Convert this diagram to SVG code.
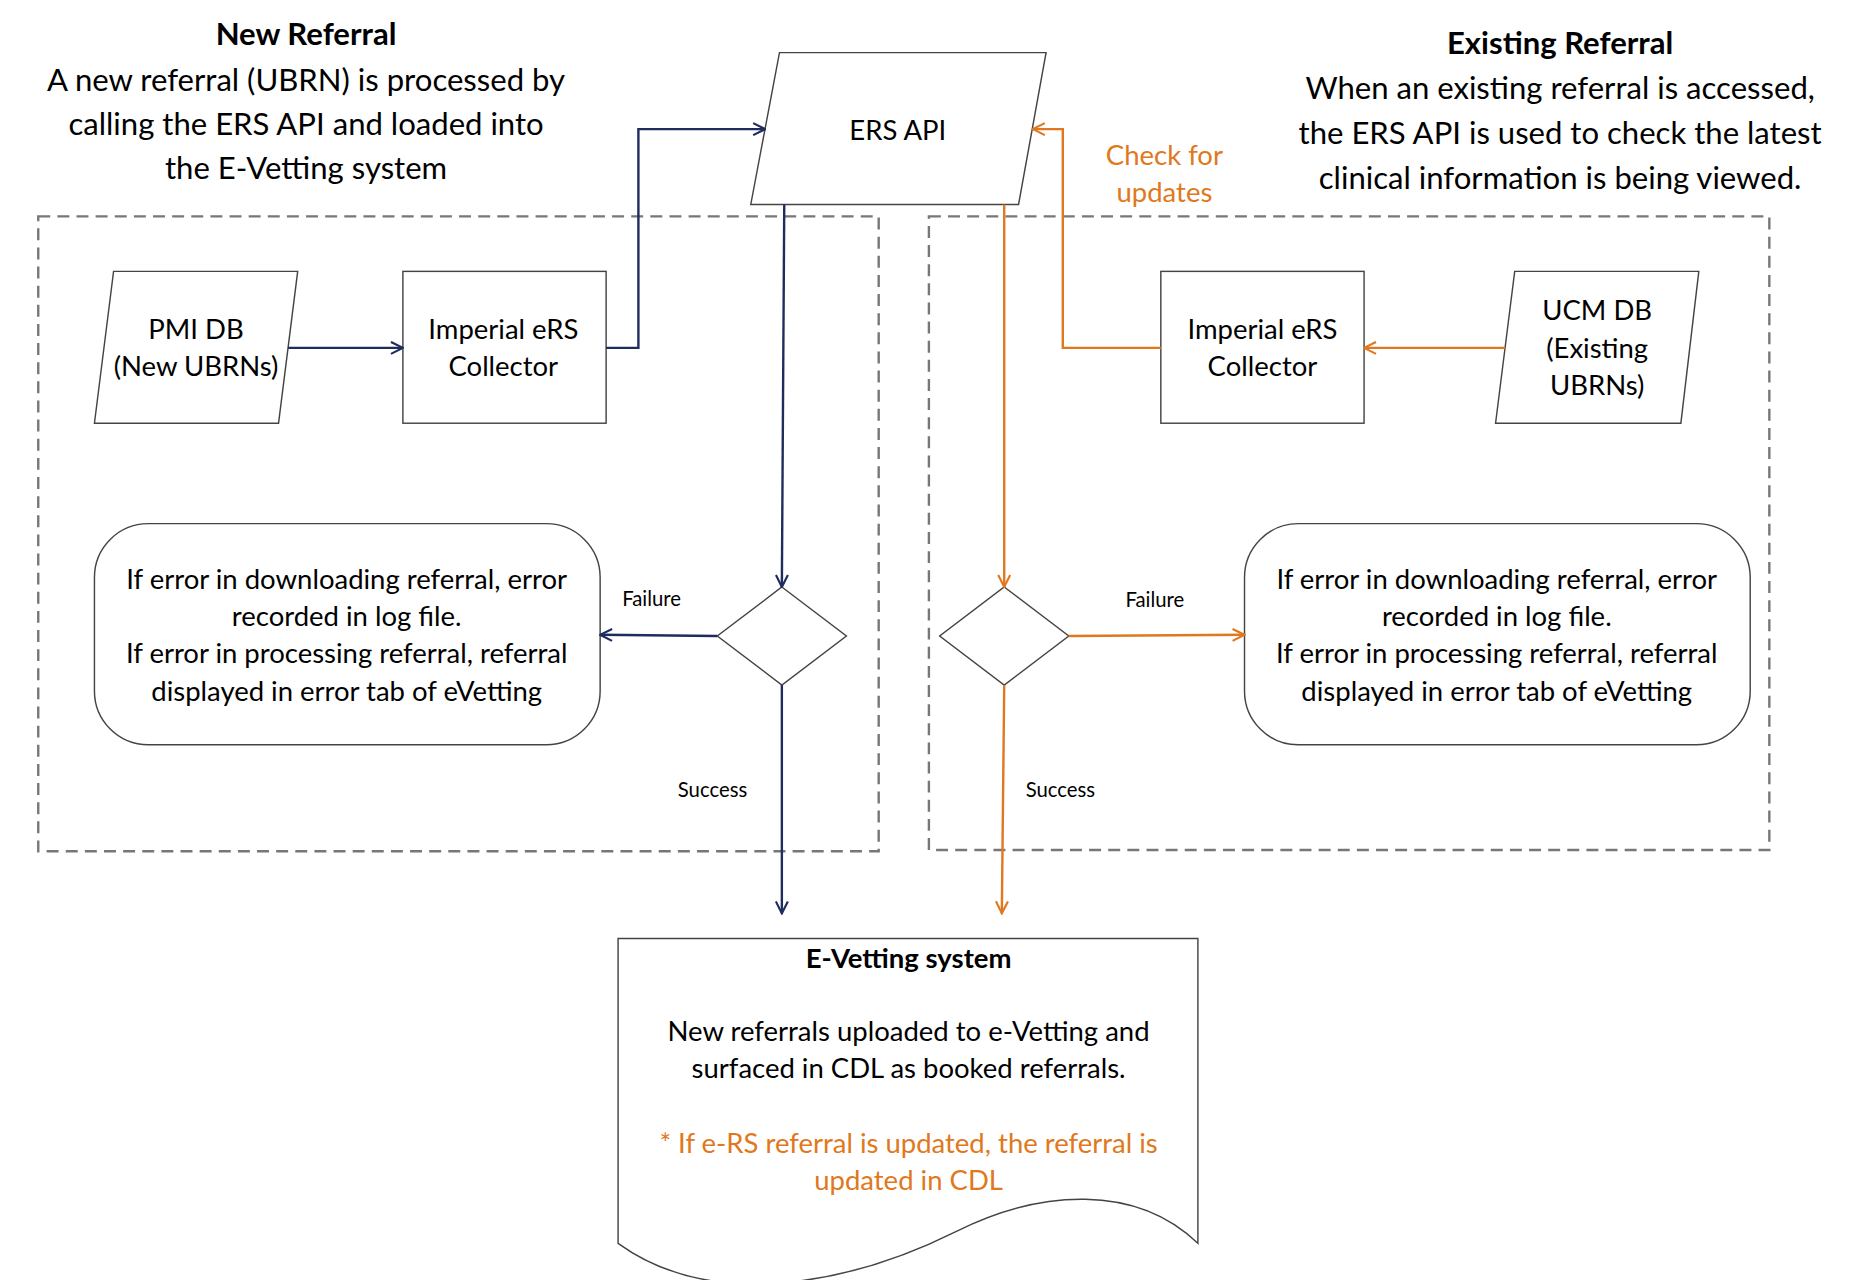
<svg xmlns="http://www.w3.org/2000/svg" width="1865" height="1280" viewBox="0 0 1865 1280">
<defs>
<style>
text{font-family:Lato,"Open Sans","Liberation Sans",sans-serif;text-anchor:middle;fill:#000;dominant-baseline:central}
.t{font-size:23px}.h{font-size:26px}.b{font-weight:bold}.s{font-size:17px}.o{fill:#E07820}
.n{fill:#fff;stroke:#444;stroke-width:1.2}
.dash{fill:none;stroke:#777;stroke-width:2;stroke-dasharray:10,6}
.nv{fill:none;stroke:#1F2D5E;stroke-width:2}.or{fill:none;stroke:#E07820;stroke-width:2}
</style>
<marker id="an" viewBox="0 0 12 12" refX="11" refY="6" markerWidth="12" markerHeight="12" markerUnits="userSpaceOnUse" orient="auto"><path d="M1,1 L11,6 L1,11" fill="none" stroke="#1F2D5E" stroke-width="1.8"/></marker>
<marker id="ao" viewBox="0 0 12 12" refX="11" refY="6" markerWidth="12" markerHeight="12" markerUnits="userSpaceOnUse" orient="auto"><path d="M1,1 L11,6 L1,11" fill="none" stroke="#E07820" stroke-width="1.8"/></marker>
</defs>
<rect width="1865" height="1280" fill="#fff"/>
<g transform="scale(1.1955)">
<g id="headers">
<text class="h b" x="256" y="28">New Referral</text>
<text class="h" x="256" y="66">A new referral (UBRN) is processed by</text>
<text class="h" x="256" y="103">calling the ERS API and loaded into</text>
<text class="h" x="256" y="140">the E-Vetting system</text>
<text class="h b" x="1305" y="35">Existing Referral</text>
<text class="h" x="1305" y="73">When an existing referral is accessed,</text>
<text class="h" x="1305" y="110">the ERS API is used to check the latest</text>
<text class="h" x="1305" y="148">clinical information is being viewed.</text>
</g>
<g id="groups">
<rect class="dash" x="32" y="181" width="703" height="531"/>
<rect class="dash" x="777" y="181" width="703" height="530"/>
</g>
<g id="ers-api"><polygon class="n" points="652,44 875,44 852,171 628,171"/><text class="t" x="751" y="108">ERS API</text></g>
<g id="pmi-db"><polygon class="n" points="95,227 249,227 233,354 79,354"/><text class="t" x="164" y="275">PMI DB</text><text class="t" x="164" y="306">(New UBRNs)</text></g>
<g id="collector-left"><rect class="n" x="337" y="227" width="170" height="127"/><text class="t" x="421" y="275">Imperial eRS</text><text class="t" x="421" y="306">Collector</text></g>
<g id="collector-right"><rect class="n" x="971" y="227" width="170" height="127"/><text class="t" x="1056" y="275">Imperial eRS</text><text class="t" x="1056" y="306">Collector</text></g>
<g id="ucm-db"><polygon class="n" points="1267,227 1421,227 1406,354 1251,354"/><text class="t" x="1336" y="259">UCM DB</text><text class="t" x="1336" y="291">(Existing</text><text class="t" x="1336" y="322">UBRNs)</text></g>
<g id="error-left"><rect class="n" x="79" y="438" width="423" height="185" rx="45"/>
<text class="t" x="290" y="484">If error in downloading referral, error</text><text class="t" x="290" y="515">recorded in log file.</text><text class="t" x="290" y="546">If error in processing referral, referral</text><text class="t" x="290" y="578">displayed in error tab of eVetting</text></g>
<g id="error-right"><rect class="n" x="1041" y="438" width="423" height="185" rx="45"/>
<text class="t" x="1252" y="484">If error in downloading referral, error</text><text class="t" x="1252" y="515">recorded in log file.</text><text class="t" x="1252" y="546">If error in processing referral, referral</text><text class="t" x="1252" y="578">displayed in error tab of eVetting</text></g>
<g id="decision-left"><polygon class="n" points="654,491 708,532 654,573 600,532"/></g>
<g id="decision-right"><polygon class="n" points="840,491 894,532 840,573 786,532"/></g>
<g id="evetting"><path class="n" d="M517,785 H1002 V1040 C950,990 870,995 800,1030 C720,1070 600,1100 517,1040 Z"/>
<text class="t b" x="760" y="801">E-Vetting system</text>
<text class="t" x="760" y="862">New referrals uploaded to e-Vetting and</text>
<text class="t" x="760" y="893">surfaced in CDL as booked referrals.</text>
<text class="t o" x="760" y="956">* If e-RS referral is updated, the referral is</text>
<text class="t o" x="760" y="987">updated in CDL</text></g>
<g id="connectors">
<path class="nv" d="M241,291 H337" marker-end="url(#an)"/>
<path class="nv" d="M507,291 H534 V108 H640" marker-end="url(#an)"/>
<path class="nv" d="M656,171 L654,491" marker-end="url(#an)"/>
<path class="nv" d="M600,532 L502,531" marker-end="url(#an)"/>
<path class="nv" d="M654,573 V764" marker-end="url(#an)"/>
<path class="or" d="M1259,291 H1141" marker-end="url(#ao)"/>
<path class="or" d="M971,291 H889 V108 H864" marker-end="url(#ao)"/>
<path class="or" d="M840,171 V491" marker-end="url(#ao)"/>
<path class="or" d="M894,532 L1041,531" marker-end="url(#ao)"/>
<path class="or" d="M840,573 L838,764" marker-end="url(#ao)"/>
<text class="s" x="545" y="500">Failure</text>
<text class="s" x="966" y="501">Failure</text>
<text class="s" x="596" y="660">Success</text>
<text class="s" x="887" y="660">Success</text>
<text class="t o" x="974" y="129">Check for</text>
<text class="t o" x="974" y="160">updates</text>
</g>
</g>
</svg>
